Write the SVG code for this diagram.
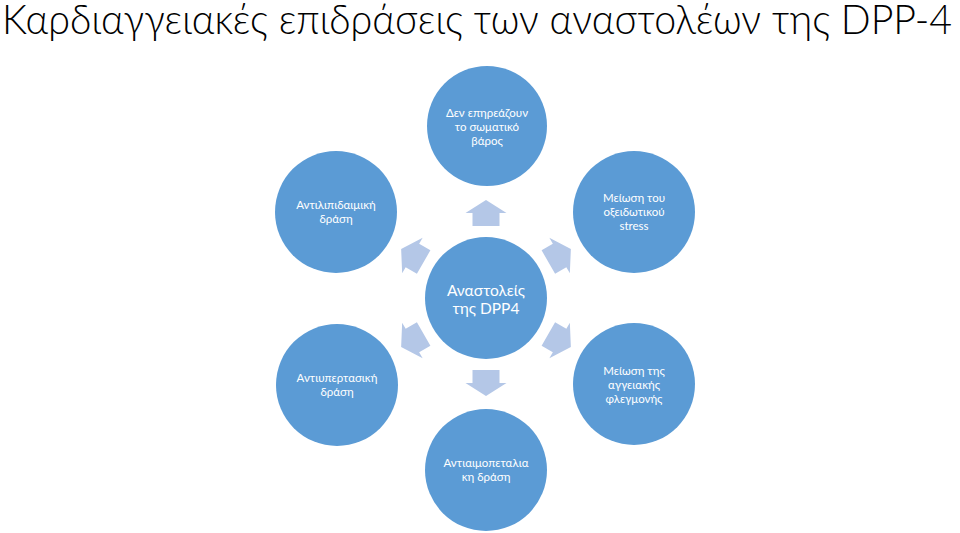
<svg xmlns="http://www.w3.org/2000/svg" width="960" height="533" viewBox="0 0 960 533">
<defs>
<style>
.bg{fill:#ffffff}
.node{fill:#5B9BD5}
.arrow{fill:#B4C7E7}
.t{font-family:Lato,"Noto Sans",sans-serif;fill:#ffffff;text-anchor:middle;font-size:11.5px}
.tc{font-family:Lato,"Noto Sans",sans-serif;fill:#ffffff;text-anchor:middle;font-size:15.5px}
.title{font-family:Lato,"Noto Sans",sans-serif;font-weight:300;fill:#000000;font-size:41px}
</style>
<polygon id="arr" points="0,-13 20.5,0 13.5,0 13.5,13 -13.5,13 -13.5,0 -20.5,0"/>
</defs>
<rect class="bg" x="0" y="0" width="960" height="533"/>
<text class="title" x="2" y="34" textLength="950" lengthAdjust="spacingAndGlyphs">Καρδιαγγειακές επιδράσεις των αναστολέων της DPP-4</text>
<g id="connectors" class="arrow">
<use href="#arr" transform="translate(486,213)"/>
<use href="#arr" transform="translate(559.6,255.5) rotate(60)"/>
<use href="#arr" transform="translate(559.6,340.5) rotate(120)"/>
<use href="#arr" transform="translate(486,383) rotate(180)"/>
<use href="#arr" transform="translate(412.4,340.5) rotate(-120)"/>
<use href="#arr" transform="translate(412.4,255.5) rotate(-60)"/>
</g>
<g id="center">
<circle class="node" cx="486" cy="298" r="61"/>
<text class="tc" x="486" y="296">Αναστολείς</text>
<text class="tc" x="486" y="314">της DPP4</text>
</g>
<g id="top">
<circle class="node" cx="487" cy="126" r="60"/>
<text class="t" x="487" y="117">Δεν επηρεάζουν</text>
<text class="t" x="487" y="131">το σωματικό</text>
<text class="t" x="487" y="145">βάρος</text>
</g>
<g id="topright">
<circle class="node" cx="634" cy="212" r="61"/>
<text class="t" x="634" y="202">Μείωση του</text>
<text class="t" x="634" y="216">οξειδωτικού</text>
<text class="t" x="634" y="230">stress</text>
</g>
<g id="bottomright">
<circle class="node" cx="634" cy="384" r="61"/>
<text class="t" x="634" y="375">Μείωση της</text>
<text class="t" x="634" y="389">αγγειακής</text>
<text class="t" x="634" y="403">φλεγμονής</text>
</g>
<g id="bottom">
<circle class="node" cx="486" cy="470" r="61"/>
<text class="t" x="486" y="467">Αντιαιμοπεταλια</text>
<text class="t" x="486" y="481">κη δράση</text>
</g>
<g id="bottomleft">
<circle class="node" cx="337" cy="385" r="61"/>
<text class="t" x="337" y="382">Αντιυπερτασική</text>
<text class="t" x="337" y="396">δράση</text>
</g>
<g id="topleft">
<circle class="node" cx="336" cy="212" r="61"/>
<text class="t" x="336" y="209">Αντιλιπιδαιμική</text>
<text class="t" x="336" y="223">δράση</text>
</g>
</svg>
